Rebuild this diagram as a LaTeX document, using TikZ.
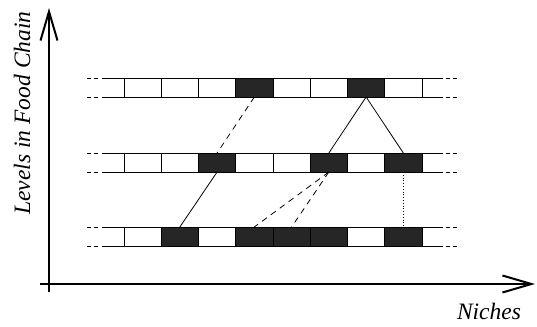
\documentclass[tikz,border=0pt]{standalone}
\usepackage{fontspec}
\setmainfont{Liberation Serif}
\usetikzlibrary{arrows.meta}

\begin{document}
\begin{tikzpicture}[
  x=1pt,y=-1pt,
  line width=0.8pt,
  cell/.style={draw,minimum width=37.25pt,minimum height=19pt,inner sep=0pt,outer sep=0pt},
  niche0/.style={cell,fill=white},
  niche1/.style={cell,fill=black!85},
  open end/.style={dash pattern=on 4pt off 3pt},
  link/.style={dash pattern=on 6pt off 5pt},
  axis/.style={line width=2pt,-{Straight Barb[length=29pt,width=17pt,line width=2pt]}},
  every node/.style={font=\fontsize{23.5}{28}\selectfont\itshape}
]
\useasboundingbox (0,0) rectangle (537,326);

% axes
\coordinate (ybot) at (49,292);
\coordinate (ytop) at (49,8);
\coordinate (xleft) at (40,284);
\coordinate (xright) at (535,284);
\draw[axis] (ybot) -- (ytop);
\draw[axis] (xleft) -- (xright);
\node[rotate=90] (ylabel) at (22,113) {Levels in Food Chain};
\node (xlabel) at (489,311) {Niches};

% the three levels
\foreach \r/\y/\pat in {1/87.5/{0,0,0,1,0,0,1,0},
                        2/162.5/{0,0,1,0,0,1,0,1},
                        3/236.5/{0,1,0,1,1,1,0,1}} {
  \foreach \f [count=\i from 0] in \pat
    \node[niche\f] (n\r\i) at ({142.6+37.25*\i},\y) {};
  \draw ([xshift=-22pt]n\r0.north west) -- ([xshift=21pt]n\r7.north east)
        ([xshift=-22pt]n\r0.south west) -- ([xshift=21pt]n\r7.south east);
  \draw[open end] ([xshift=-37pt]n\r0.north west) -- ([xshift=-24pt]n\r0.north west)
        ([xshift=-37pt]n\r0.south west) -- ([xshift=-24pt]n\r0.south west)
        ([xshift=24pt]n\r7.north east) -- ([xshift=38pt]n\r7.north east)
        ([xshift=24pt]n\r7.south east) -- ([xshift=38pt]n\r7.south east);
}

% food chain links
\draw[link] (n13.south) -- (n22.north);
\draw (n16.south) -- (n25.north);
\draw (n16.south) -- (n27.north);
\draw (n22.south) -- (n31.north);
\draw[link] (n25.south) -- (n33.north);
\draw[link] (n25.south) -- (n34.north);
\draw[dotted] (n27.south) -- (n37.north);
\end{tikzpicture}
\end{document}
